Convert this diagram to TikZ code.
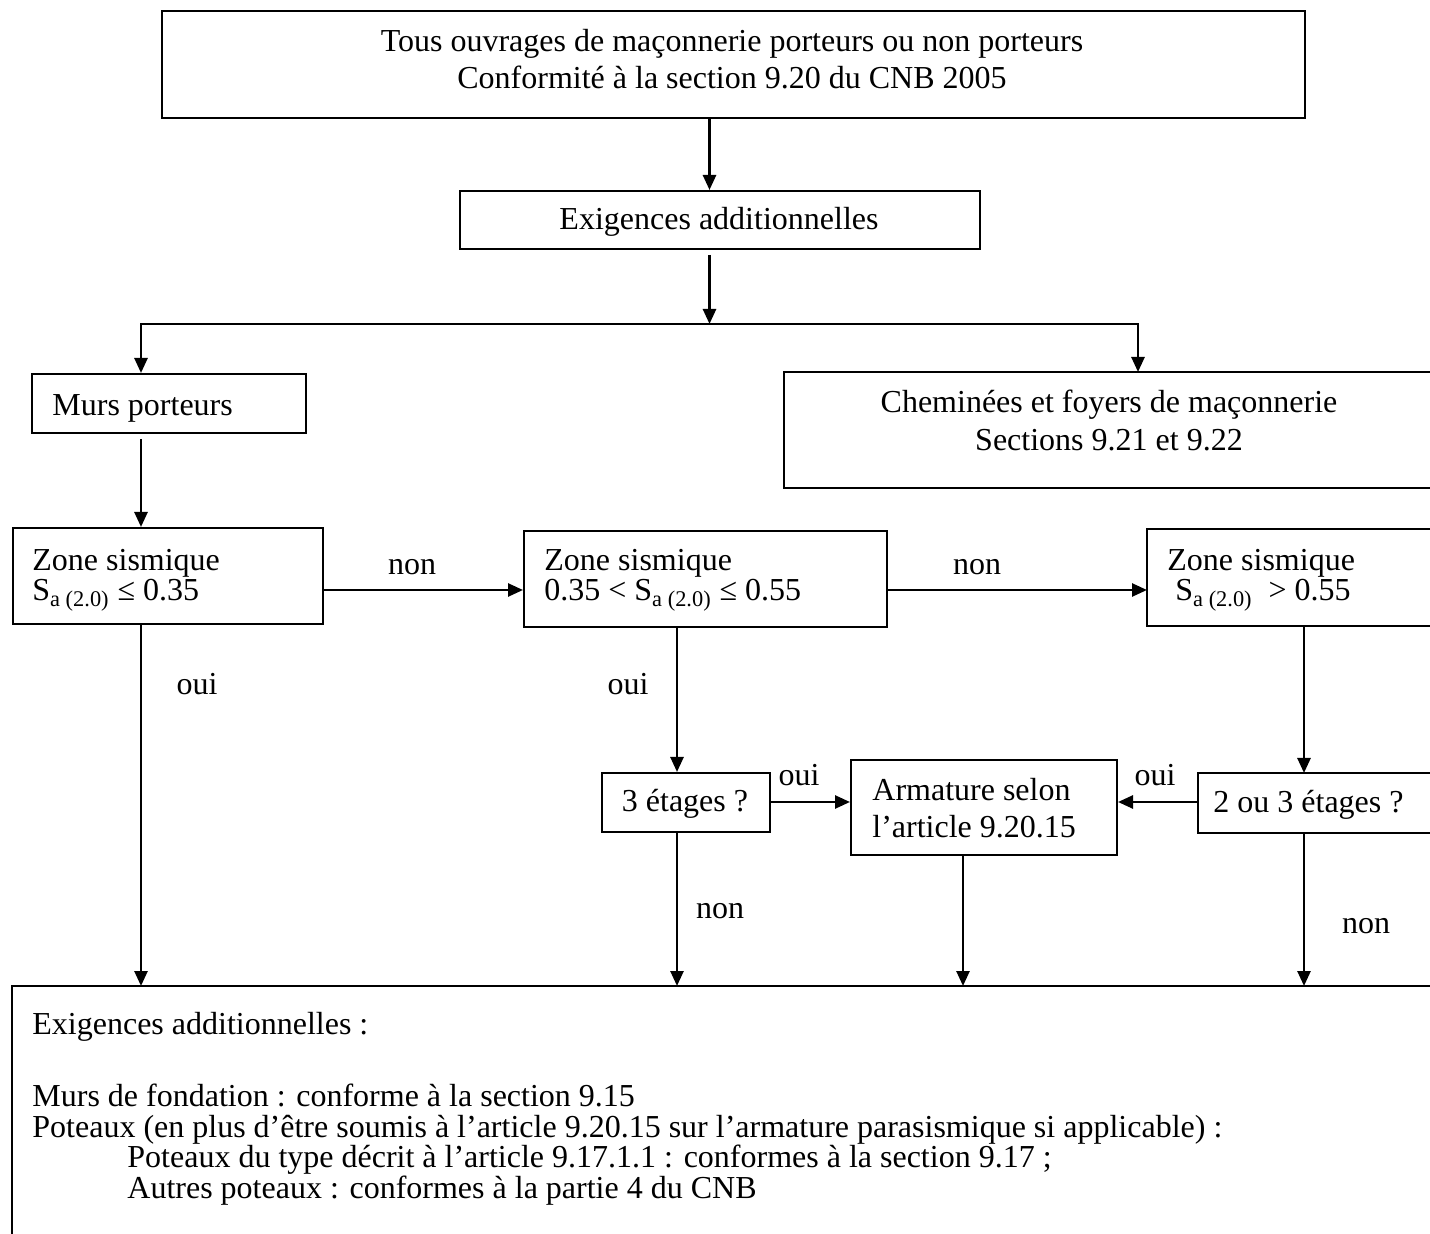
\documentclass[tikz,border=0pt]{standalone}
\usepackage{fontspec}
\setmainfont{Liberation Serif}
\usetikzlibrary{arrows.meta}
\begin{document}
\begin{tikzpicture}[x=0.5pt,y=-0.5pt,
  font=\fontsize{16}{18}\selectfont,
  box/.style={draw, line width=1pt, inner sep=0pt, anchor=north west},
  openbox/.style={inner sep=0pt, anchor=north west},
  openline/.style={line width=1pt},
  txt/.style={inner sep=0pt, anchor=base},
  ltxt/.style={inner sep=0pt, anchor=base west},
  arr/.style={line width=1.3pt, -{Triangle[length=7.5pt,width=6.5pt]}}]
\useasboundingbox (0,0) rectangle (1430,1234);

% guide coordinates for connector columns and rows
\coordinate (cA) at (709.5,0);
\coordinate (cL) at (141,0);
\coordinate (cR) at (1138,0);
\coordinate (cM) at (677,0);
\coordinate (cN) at (963,0);
\coordinate (cP) at (1304,0);
\coordinate (rZ) at (0,590);
\coordinate (rE) at (0,802);
\coordinate (j) at (709.5,324);

% boxes
\node[box, minimum width=571.5pt, minimum height=53.5pt] (top) at (161,10) {};
\node[box, minimum width=260pt, minimum height=29pt] (ex) at (459,190) {};
\node[box, minimum width=137pt, minimum height=29.5pt] (murs) at (31,373) {};
\node[openbox, minimum width=323pt, minimum height=57.5pt] (chem) at (784,372) {};
\draw[openline] (chem.north east) -- (chem.north west) -- (chem.south west) -- (chem.south east);
\node[box, minimum width=155pt, minimum height=48pt] (z1) at (12,527) {};
\node[box, minimum width=181.5pt, minimum height=48pt] (z2) at (523,530) {};
\node[openbox, minimum width=141.5pt, minimum height=48pt] (z3) at (1147,529) {};
\draw[openline] (z3.north east) -- (z3.north west) -- (z3.south west) -- (z3.south east);
\node[box, minimum width=84pt, minimum height=29.5pt] (e3) at (601,772) {};
\node[box, minimum width=133pt, minimum height=47.5pt] (arm) at (850,759) {};
\node[openbox, minimum width=116pt, minimum height=29.5pt] (e23) at (1198,773) {};
\draw[openline] (e23.north east) -- (e23.north west) -- (e23.south west) -- (e23.south east);
\node[openbox, minimum width=709pt, minimum height=124pt] (bot) at (12,986) {};
\draw[openline] (bot.north east) -- (bot.north west) -- (bot.south west);

% texts
\node[txt] (t1) at (732,52) {Tous ouvrages de maçonnerie porteurs ou non porteurs};
\node[txt] (t2) at (732,89) {Conformité à la section 9.20 du CNB 2005};
\node[txt] (tex) at (719,230) {Exigences additionnelles};
\node[ltxt] (tmurs) at (52,416) {Murs porteurs};
\node[txt] (tch1) at (1109,413) {Cheminées et foyers de maçonnerie};
\node[txt] (tch2) at (1109,451) {Sections 9.21 et 9.22};
\node[ltxt] (tz1a) at (32,571) {Zone sismique};
\node[ltxt] (tz1b) at (32,601) {S\textsubscript{a (2.0)} ≤ 0.35};
\node[ltxt] (tz2a) at (544,571) {Zone sismique};
\node[ltxt] (tz2b) at (544,601) {0.35 < S\textsubscript{a (2.0)} ≤ 0.55};
\node[ltxt] (tz3a) at (1167,571) {Zone sismique};
\node[ltxt] (tz3b) at (1175,601) {S\textsubscript{a (2.0)}\ \ > 0.55};
\node[txt] (te3) at (685,812) {3 étages ?};
\node[ltxt] (tarm1) at (872,801) {Armature selon};
\node[ltxt] (tarm2) at (872,838) {l’article 9.20.15};
\node[ltxt] (te23) at (1213,813) {2 ou 3 étages ?};

% connector labels
\node[txt] (lnon1) at (412,575) {non};
\node[txt] (lnon2) at (977,575) {non};
\node[txt] (loui1) at (197,695) {oui};
\node[txt] (loui2) at (628,695) {oui};
\node[txt] (loui3) at (799,786) {oui};
\node[txt] (loui4) at (1155,786) {oui};
\node[txt] (lnon3) at (720,918) {non};
\node[txt] (lnon4) at (1366,934) {non};

% bottom text
\node[ltxt] (b1) at (32,1034) {Exigences additionnelles :};
\node[ltxt] (b2) at (32,1106) {Murs de fondation : conforme à la section 9.15};
\node[ltxt] (b3) at (32,1137) {Poteaux (en plus d’être soumis à l’article 9.20.15 sur l’armature parasismique si applicable) :};
\node[ltxt] (b4) at (127,1167) {Poteaux du type décrit à l’article 9.17.1.1 : conformes à la section 9.17 ;};
\node[ltxt] (b5) at (127,1198) {Autres poteaux : conformes à la partie 4 du CNB};

% connectors
\draw[arr] (top.south -| cA) -- (ex.north -| cA);
\draw[arr] ([yshift=-2.5pt]ex.south -| cA) -- (j);
\draw[arr] (j) -| (murs.north -| cL);
\draw[arr] (j) -| (chem.north -| cR);
\draw[arr] ([yshift=-2.5pt]murs.south -| cL) -- (z1.north -| cL);
\draw[arr] (z1.east |- rZ) -- (z2.west |- rZ);
\draw[arr] (z2.east |- rZ) -- (z3.west |- rZ);
\draw[arr] (z1.south -| cL) -- (bot.north -| cL);
\draw[arr] (z2.south -| cM) -- (e3.north -| cM);
\draw[arr] (z3.south -| cP) -- (e23.north -| cP);
\draw[arr] (e3.east |- rE) -- (arm.west |- rE);
\draw[arr] (e23.west |- rE) -- (arm.east |- rE);
\draw[arr] (e3.south -| cM) -- (bot.north -| cM);
\draw[arr] (arm.south -| cN) -- (bot.north -| cN);
\draw[arr] (e23.south -| cP) -- (bot.north -| cP);
\end{tikzpicture}
\end{document}
